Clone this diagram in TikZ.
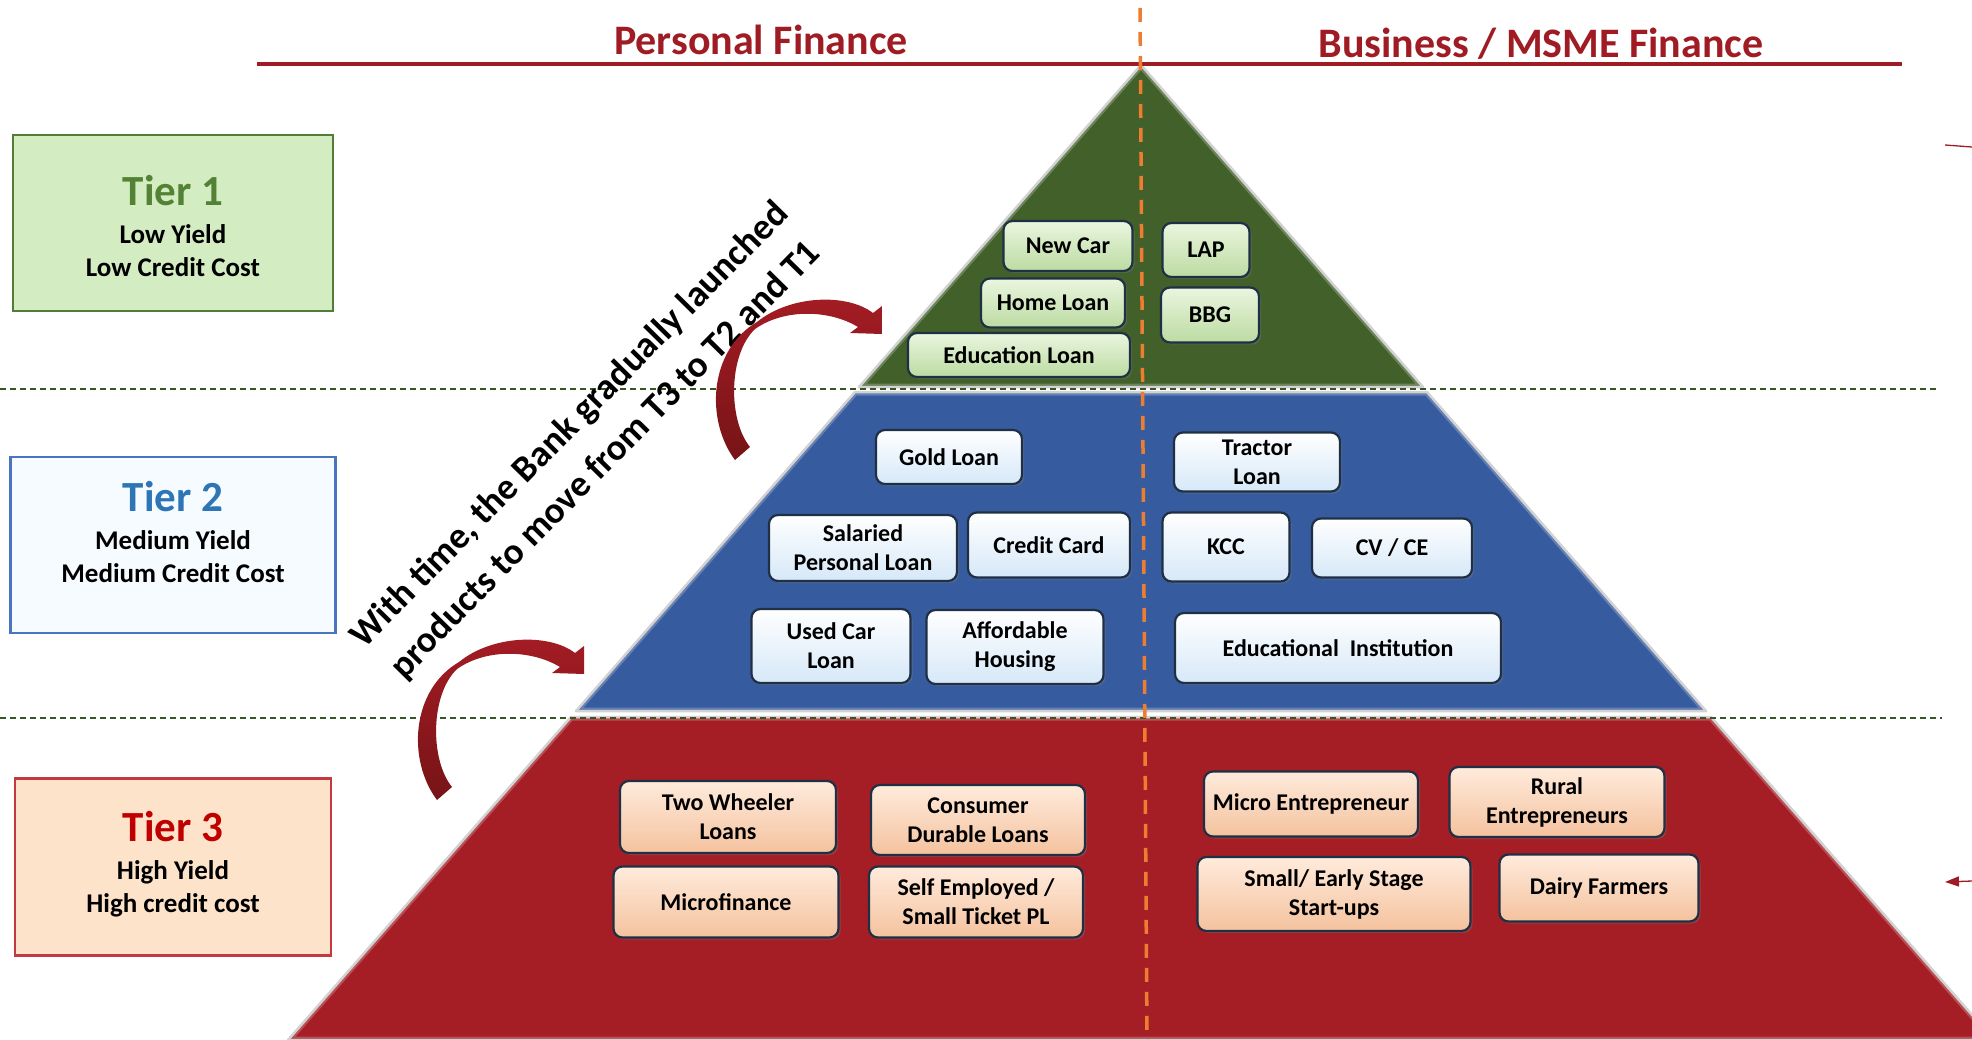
\documentclass[tikz,border=0pt]{standalone}
\usepackage{fontspec}
\setmainfont{Carlito}
\usetikzlibrary{arrows.meta,shadows}

\definecolor{finred}{HTML}{A01C24}
\definecolor{tierone}{HTML}{41602A}
\definecolor{tiertwo}{HTML}{375B9F}
\definecolor{tierthree}{HTML}{A51D25}
\definecolor{splitorange}{HTML}{ED7D31}
\definecolor{guidegreen}{HTML}{375623}
\definecolor{boxline}{HTML}{1F3044}
\definecolor{arrowtop}{HTML}{A51C24}
\definecolor{arrowbot}{HTML}{761417}
\definecolor{greentop}{HTML}{EAF6DF}
\definecolor{greenbot}{HTML}{BCDBA2}
\definecolor{bluebot}{HTML}{D6E8F8}
\definecolor{peachtop}{HTML}{FFEBDC}
\definecolor{peachbot}{HTML}{F4C29E}
\definecolor{onefill}{HTML}{D3ECC1}
\definecolor{oneline}{HTML}{537D36}
\definecolor{onetext}{HTML}{548235}
\definecolor{twofill}{HTML}{F6FBFF}
\definecolor{twoline}{HTML}{4A74C2}
\definecolor{twotext}{HTML}{2E75B6}
\definecolor{threefill}{HTML}{FDE3C9}
\definecolor{threeline}{HTML}{C3393F}
\definecolor{threetext}{HTML}{C00000}

\tikzset{
    prod/.style={draw=boxline, line width=2.2pt, rounded corners=9pt, align=center, inner sep=1pt,
        font=\bfseries\fontsize{24}{29}\selectfont,
        drop shadow={shadow xshift=2pt, shadow yshift=-2pt, opacity=.35}},
    prodA/.style={prod, top color=greentop, bottom color=greenbot},
    prodB/.style={prod, top color=white, bottom color=bluebot},
    prodC/.style={prod, top color=peachtop, bottom color=peachbot},
    tierbox/.style={line width=2.5pt},
    tiertext/.style={align=center, font=\bfseries\fontsize{27}{33}\selectfont},
    heading/.style={text=finred, font=\bfseries\fontsize{42}{48}\selectfont},
    guide/.style={guidegreen, line width=1.2pt, dash pattern=on 6pt off 4pt},
    layer/.style={draw=gray!35, line width=2.5pt, line join=round},
    rim/.style={line width=7pt, opacity=.5, line join=round},
    upswing/.pic={
        \shade[top color=arrowtop, bottom color=arrowbot]
            (0,0) .. controls (-30,-40) and (-26,-110) .. (22,-138)
            .. controls (55,-165) and (112,-167) .. (138,-147)
            -- (147,-154) -- (147,-126) -- (115,-127) -- (123,-133)
            .. controls (95,-150) and (50,-152) .. (20,-131)
            .. controls (-7,-105) and (-7,-40) .. (15,-13) -- cycle;
    }
}

\begin{document}
\begin{tikzpicture}[x=1pt,y=-1pt]
    \useasboundingbox (0,0) rectangle (1972,1040);
    \clip (0,0) rectangle (1972,1040);

    \fill[tierone] (1141,65) -- (1423,387) -- (859,387) -- cycle;
    \begin{scope}
        \clip (1141,65) -- (1423,387) -- (859,387) -- cycle;
        \draw[rim, tierone!55!white] (1141,65) -- (1423,387) -- (859,387) -- cycle;
    \end{scope}
    \draw[layer] (1141,65) -- (1423,387) -- (859,387) -- cycle;
    \fill[tiertwo] (855,392) -- (1427,392) -- (1706,711) -- (576,711) -- cycle;
    \begin{scope}
        \clip (855,392) -- (1427,392) -- (1706,711) -- (576,711) -- cycle;
        \draw[rim, tiertwo!55!white] (855,392) -- (1427,392) -- (1706,711) -- (576,711) -- cycle;
    \end{scope}
    \draw[layer] (855,392) -- (1427,392) -- (1706,711) -- (576,711) -- cycle;
    \fill[tierthree] (571,717) -- (1711,717) -- (1994,1040) -- (288,1040) -- cycle;
    \begin{scope}
        \clip (571,717) -- (1711,717) -- (1994,1040) -- (288,1040) -- cycle;
        \draw[rim, tierthree!55!white] (571,717) -- (1711,717) -- (1994,1040) -- (288,1040) -- cycle;
    \end{scope}
    \draw[layer] (571,717) -- (1711,717) -- (1994,1040) -- (288,1040) -- cycle;

    \draw[guide] (0,389) -- (1937,389);
    \draw[guide] (0,718) -- (1942,718);
    \draw[finred, line width=4pt] (257,64) -- (1902,64);
    \draw[splitorange, line width=3.5pt, dash pattern=on 14pt off 10pt] (1140,8) -- (1147,1040);

    \node[heading] (personal) at (761,40) {Personal Finance};
    \node[heading] (business) at (1541,44) {Business / MSME Finance};

    \node[tierbox, draw=oneline, fill=onefill, minimum width=320, minimum height=176] (tierA) at (173,223) {};
    \node[tiertext] (tierAtext) at (173,226)
        {{\fontsize{43}{44}\selectfont\color{onetext}Tier 1}\\[5pt]Low Yield\\Low Credit Cost};
    \node[tierbox, draw=twoline, fill=twofill, minimum width=325, minimum height=176] (tierB) at (173,545) {};
    \node[tiertext] (tierBtext) at (173,532)
        {{\fontsize{43}{44}\selectfont\color{twotext}Tier 2}\\[5pt]Medium Yield\\Medium Credit Cost};
    \node[tierbox, draw=threeline, fill=threefill, minimum width=316, minimum height=177] (tierC) at (173,867) {};
    \node[tiertext] (tierCtext) at (173,864)
        {{\fontsize{43}{44}\selectfont\color{threetext}Tier 3}\\[5pt]High Yield\\High credit cost};

    \node[prodA, minimum width=129, minimum height=50] (newcar) at (1068,246) {New Car};
    \node[prodA, minimum width=144, minimum height=49] (homeloan) at (1053,303) {Home Loan};
    \node[prodA, minimum width=222, minimum height=44] (eduloan) at (1019,355) {Education Loan};
    \node[prodA, minimum width=87, minimum height=54] (lap) at (1206,250) {LAP};
    \node[prodA, minimum width=98, minimum height=55] (bbg) at (1210,315) {BBG};

    \node[prodB, minimum width=146, minimum height=54] (goldloan) at (949,457) {Gold Loan};
    \node[prodB, minimum width=166, minimum height=59] (tractor) at (1257,462) {Tractor\\Loan};
    \node[prodB, minimum width=188, minimum height=66] (salaried) at (863,548) {Salaried\\Personal Loan};
    \node[prodB, minimum width=162, minimum height=65] (creditcard) at (1049,545) {Credit Card};
    \node[prodB, minimum width=127, minimum height=69] (kcc) at (1226,547) {KCC};
    \node[prodB, minimum width=160, minimum height=59] (cvce) at (1392,548) {CV / CE};
    \node[prodB, minimum width=159, minimum height=74] (usedcar) at (831,646) {Used Car\\Loan};
    \node[prodB, minimum width=177, minimum height=74] (housing) at (1015,647) {Affordable\\Housing};
    \node[prodB, minimum width=326, minimum height=70] (eduinst) at (1338,648) {Educational\ \ Institution};

    \node[prodC, minimum width=216, minimum height=72] (twowheeler) at (728,817) {Two Wheeler\\Loans};
    \node[prodC, minimum width=214, minimum height=70] (durable) at (978,820) {Consumer\\Durable Loans};
    \node[prodC, minimum width=225, minimum height=71] (microfin) at (726,902) {Microfinance};
    \node[prodC, minimum width=214, minimum height=71] (selfemp) at (976,902) {Self Employed /\\Small Ticket PL};
    \node[prodC, minimum width=214, minimum height=65] (microent) at (1311,804) {Micro Entrepreneur};
    \node[prodC, minimum width=215, minimum height=70] (rural) at (1557,802) {Rural\\Entrepreneurs};
    \node[prodC, minimum width=273, minimum height=74] (startups) at (1334,894) {Small/ Early Stage\\Start-ups};
    \node[prodC, minimum width=199, minimum height=67] (dairy) at (1599,888) {Dairy Farmers};

    \node[rotate=45.5, align=center, font=\bfseries\fontsize{37}{50}\selectfont] (movenote) at (588,443)
        {With time, the Bank gradually launched\\products to move from T3 to T2 and T1};
    \pic at (735,460) {upswing};
    \pic at (437,800) {upswing};

    \coordinate (edgeA) at (1972,147);
    \coordinate (endA) at (1945,145);
    \coordinate (edgeB) at (1972,881);
    \coordinate (endB) at (1945,882);
    \draw[finred, line width=1.3pt] (edgeA) -- (endA);
    \draw[finred, line width=1.3pt, -{Triangle[length=14pt,width=10pt]}] (edgeB) -- (endB);
\end{tikzpicture}
\end{document}
